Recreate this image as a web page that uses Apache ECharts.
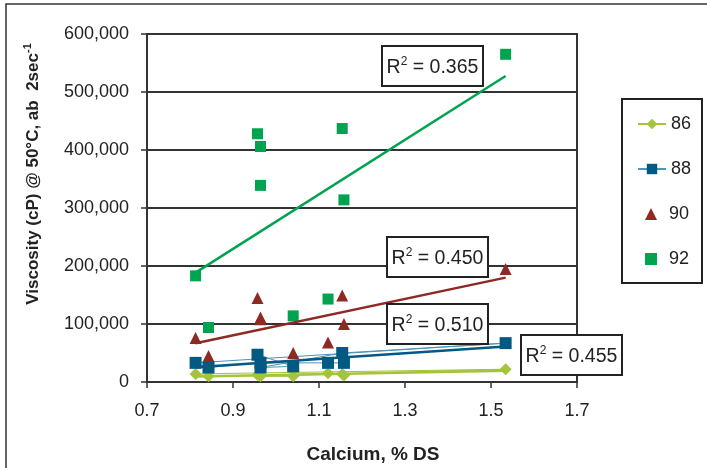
<!DOCTYPE html>
<html>
<head>
<meta charset="utf-8">
<script src="https://cdn.jsdelivr.net/npm/echarts@6/dist/echarts.min.js"></script>
<style>html,body{margin:0;padding:0;background:#fff}#c{width:707px;height:468px}</style>
</head>
<body>
<div id="c"></div>
<script>
// ---- data ----
const calcium = [0.957, 1.040, 0.964, 1.154, 1.534, 0.813, 0.843, 0.964, 1.121, 1.158];
const visc86 = [12000, 10000, 10000, 14000, 22000, 14000, 10000, 11000, 15000, 11000];
const visc88 = [47000, 27000, 25000, 50000, 67000, 33000, 25000, 33000, 33000, 33000];
const visc90 = [145000, 50000, 111000, 149000, 195000, 76000, 45000, 108000, 68000, 100000];
const visc92 = [428000, 114000, 406000, 437000, 565000, 183000, 94000, 339000, 143000, 314000];
const seriesNames = ['86', '88', '90', '92'];
const r2Labels = ['0.365', '0.450', '0.510', '0.455'];
const xTickValues = [0.7, 0.9, 1.1, 1.3, 1.5, 1.7];

const FONT = '"Liberation Sans", Arial, sans-serif';
const C86 = '#a3c43b', C88 = '#005a82', C88L = '#4f93b8', C90 = '#8e2a23', C92 = '#00a34f';

function pts(xs, ys) { return xs.map((x, i) => [x, ys[i]]); }
function fit(xs, ys) {
  const n = xs.length;
  const mx = xs.reduce((a, b) => a + b, 0) / n;
  const my = ys.reduce((a, b) => a + b, 0) / n;
  let sxy = 0, sxx = 0;
  for (let i = 0; i < n; i++) { sxy += (xs[i] - mx) * (ys[i] - my); sxx += (xs[i] - mx) ** 2; }
  const b = sxy / sxx, a = my - b * mx;
  const x0 = Math.min(...xs), x1 = Math.max(...xs);
  return [[x0, a + b * x0], [x1, a + b * x1]];
}
function trend(xs, ys, color) {
  return { type: 'line', data: fit(xs, ys), showSymbol: false, symbol: 'none', silent: true,
    lineStyle: { color: color, width: 2.5 }, z: 5, animation: false };
}

const chart = echarts.init(document.getElementById('c'), null, { renderer: 'canvas' });

function box(x, y, label) {
  return [
    { type: 'rect', z: 100, shape: { x: x, y: y, width: 101, height: 40 },
      style: { fill: '#fff', stroke: '#222', lineWidth: 2 } },
    { type: 'text', z: 101, x: x + 50.5, y: y + 21,
      style: { text: '{m|R}{s|2}{m| = ' + label + '}', align: 'center', verticalAlign: 'middle',
        rich: {
          m: { fontSize: 19.5, fontFamily: FONT, fill: '#222', lineHeight: 22, verticalAlign: 'bottom' },
          s: { fontSize: 12, fontFamily: FONT, fill: '#222', lineHeight: 22, verticalAlign: 'top' }
        } } }
  ];
}

chart.setOption({
  animation: false,
  backgroundColor: '#fff',
  grid: { left: 147, right: 130, top: 34, bottom: 86, show: true, borderColor: '#333', borderWidth: 2 },
  xAxis: {
    type: 'value', min: 0.7, max: 1.7,
    axisLine: { show: true, lineStyle: { color: '#333', width: 2 } },
    axisTick: { show: true, length: 6, lineStyle: { color: '#333', width: 1.5 }, customValues: xTickValues },
    axisLabel: { customValues: xTickValues, color: '#222', fontSize: 18, fontFamily: FONT, margin: 20,
      formatter: v => v.toFixed(1) },
    splitLine: { show: false }
  },
  yAxis: {
    type: 'value', min: 0, max: 600000, interval: 100000,
    axisLine: { show: true, lineStyle: { color: '#333', width: 2 } },
    axisTick: { show: true, length: 6, lineStyle: { color: '#333', width: 1.5 } },
    axisLabel: { color: '#222', fontSize: 18, fontFamily: FONT, margin: 18,
      formatter: v => v.toLocaleString('en-US') },
    splitLine: { show: true, lineStyle: { color: '#333', width: 2 } }
  },
  legend: [
    {
      orient: 'vertical', left: 637, top: 114, padding: 0,
      itemWidth: 28, itemHeight: 13, itemGap: 25,
      data: [seriesNames[0], seriesNames[1]],
      textStyle: { fontSize: 18, fontFamily: FONT, color: '#222', lineHeight: 20 }
    },
    {
      orient: 'vertical', left: 645, top: 204, padding: 0,
      itemWidth: 12, itemHeight: 12, itemGap: 25,
      data: [seriesNames[2], seriesNames[3]],
      textStyle: { fontSize: 18, fontFamily: FONT, color: '#222', lineHeight: 20, padding: [0, 0, 0, 7] }
    }
  ],
  series: [
    { name: seriesNames[0], type: 'line', data: pts(calcium, visc86), symbol: 'diamond', symbolSize: 12,
      itemStyle: { color: C86 }, lineStyle: { color: C86, width: 1 }, z: 3 },
    { name: seriesNames[1], type: 'line', data: pts(calcium, visc88), symbol: 'rect', symbolSize: 12,
      itemStyle: { color: C88 }, lineStyle: { color: C88L, width: 1 }, z: 3 },
    { name: seriesNames[2], type: 'scatter', data: pts(calcium, visc90), symbol: 'triangle', symbolSize: 12,
      itemStyle: { color: C90, opacity: 1 }, z: 3 },
    { name: seriesNames[3], type: 'scatter', data: pts(calcium, visc92), symbol: 'rect', symbolSize: 11,
      itemStyle: { color: C92, opacity: 1 }, z: 3 },
    trend(calcium, visc92, C92),
    trend(calcium, visc90, C90),
    trend(calcium, visc88, C88),
    trend(calcium, visc86, C86)
  ],
  graphic: [
    { type: 'rect', z: 0, silent: true, shape: { x: 6, y: 4, width: 720, height: 480 },
      style: { fill: 'none', stroke: '#333', lineWidth: 1.5 } },
    { type: 'rect', z: 90, shape: { x: 622, y: 99, width: 80, height: 184 },
      style: { fill: 'none', stroke: '#222', lineWidth: 2 } },
    ...box(382, 46, r2Labels[0]),
    ...box(387, 237, r2Labels[1]),
    ...box(387, 304, r2Labels[2]),
    ...box(521, 335, r2Labels[3]),
    { type: 'text', x: 373, y: 455, z: 100,
      style: { text: 'Calcium, % DS', fontSize: 19, fontWeight: 'bold', fontFamily: FONT, fill: '#222',
        align: 'center', verticalAlign: 'middle' } },
    { type: 'text', x: 32, y: 174, rotation: Math.PI / 2, z: 100,
      style: { text: '{m|Viscosity (cP) @ 50°C, ab  2sec}{s|-1}', align: 'center', verticalAlign: 'middle',
        rich: {
          m: { fontSize: 17, fontWeight: 'bold', fontFamily: FONT, fill: '#222', lineHeight: 20, verticalAlign: 'bottom' },
          s: { fontSize: 11, fontWeight: 'bold', fontFamily: FONT, fill: '#222', lineHeight: 20, verticalAlign: 'top' }
        } } }
  ]
});
</script>
</body>
</html>
